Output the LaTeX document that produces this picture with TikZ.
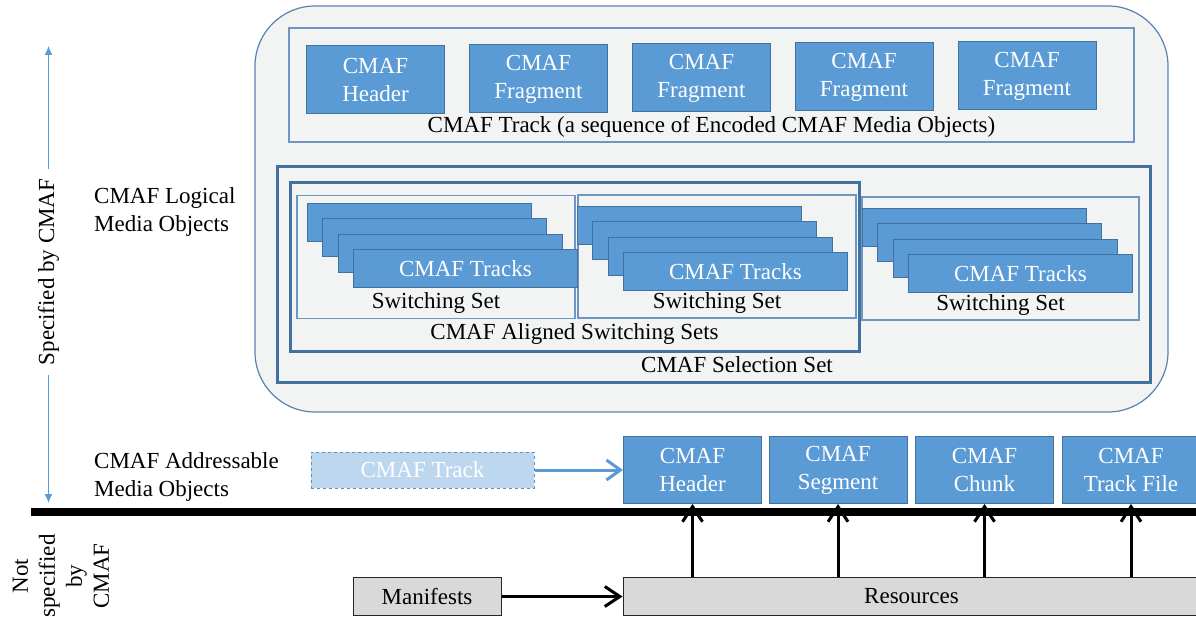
\documentclass[tikz,border=0pt]{standalone}
\usepackage{fontspec}
\setmainfont{Liberation Serif}
\usetikzlibrary{arrows.meta,positioning}

\definecolor{cmafblue}{HTML}{5B9BD5}
\definecolor{cmafedge}{HTML}{41719C}
\definecolor{cmafpale}{HTML}{BDD7EE}
\definecolor{framefill}{HTML}{F2F4F4}
\definecolor{frameedge}{HTML}{5A82AE}
\definecolor{thinedge}{HTML}{6E96C4}
\definecolor{resgray}{HTML}{D9D9D9}

\tikzset{
  every node/.style={font=\fontsize{23}{28}\selectfont, inner sep=0pt},
  blk/.style={draw=cmafedge, fill=cmafblue, text=white, align=center,
    minimum width=138pt, minimum height=68pt, line width=1pt},
  trk/.style={draw=cmafedge, fill=cmafblue, text=white,
    minimum width=224pt, minimum height=38pt, line width=1pt},
  thinbox/.style={draw=thinedge, line width=1.2pt},
  thickbox/.style={draw=cmafedge, line width=3pt},
  graybox/.style={draw=black!85, fill=resgray, line width=1pt, minimum height=38pt},
  ghost/.style={draw=cmafedge!80, dashed, fill=cmafpale, text=white,
    minimum width=223pt, minimum height=36pt, line width=1pt},
  bluearrow/.style={draw=cmafblue, line width=3pt, -{Straight Barb[length=14pt,width=20pt]}},
  blackarrow/.style={draw=black, line width=3pt, -{Straight Barb[length=15pt,width=20pt]}},
  specarrow/.style={draw=cmafblue, line width=1.2pt, -{Latex[length=9pt,width=8pt]}},
}

\begin{document}
\begin{tikzpicture}[x=1pt,y=-1pt]
    \useasboundingbox (0,0) rectangle (1196,617);
    % Frames:
    \draw[draw=frameedge, fill=framefill, line width=1.2pt, rounded corners=60pt] (255,6) rectangle (1168,412);
    \node[thinbox, minimum width=845pt, minimum height=114pt] (track) at (711.5,85) {};
    \node[thickbox, minimum width=873pt, minimum height=215pt] (sel) at (713.5,274.5) {};
    \node[thickbox, minimum width=569pt, minimum height=168pt] (aligned) at (574.5,267) {};
    \foreach \n/\x/\y/\w in {ss1/436/257/278pt, ss2/717/256.5/278pt, ss3/1000.5/258.5/277pt}
      \node[thinbox, minimum width=\w, minimum height=123pt] (\n) at (\x,\y) {};
    % Media objects:
    \foreach \n/\x/\y/\t in {hdr/375.5/80/Header, frg1/538.5/79/Fragment, frg2/701.5/78/Fragment,
        frg3/864/77/Fragment, frg4/1027/76/Fragment}
      \node[blk] (\n) at (\x,\y) {CMAF\\\t};
    \foreach \s/\x/\y in {a/307/203, b/577/206, c/862/208}
      \foreach \i/\t in {0/{},1/{},2/{},3/CMAF Tracks}
        \node[trk, anchor=north west] (\s\i) at (\x+15.3*\i, \y+15.3*\i) {\t};
    % Labels:
    \node at (711.5,127) {CMAF Track (a sequence of Encoded CMAF Media Objects)};
    \foreach \n in {ss1,ss2,ss3}
      \node at ([yshift=16pt]\n.south) {Switching Set};
    \node at ([yshift=18pt]aligned.south) {CMAF Aligned Switching Sets};
    \node at ([xshift=23.5pt,yshift=19pt]sel.south) {CMAF Selection Set};
    \node[align=left, anchor=west] (logical) at (94,212) {CMAF Logical\\Media Objects};
    \node[align=left, anchor=west] (address) at (94,477) {CMAF Addressable\\Media Objects};
    % Scope:
    \node[rotate=90, inner xsep=10pt] (spec) at (48.5,272) {Specified by CMAF};
    \coordinate (spectop) at (48.5,46);
    \coordinate (specbot) at (48.5,503);
    \draw[specarrow] (spec.east) -- (spectop);
    \draw[specarrow] (spec.west) -- (specbot);
    \node[rotate=90, align=center, font=\fontsize{23}{27}\selectfont] (notspec) at (61,576) {Not\\specified\\by\\CMAF};
    \draw[line width=8pt] (31,512) -- (1196,512);
    % Addressable objects:
    \node[ghost] (ghost) at (422.5,470) {CMAF Track};
    \foreach \n/\x/\t in {ahdr/692.5/Header, aseg/838/Segment, achk/984.5/Chunk, afile/1131/Track File}
      \node[blk, minimum height=67pt] (\n) at (\x,470) {CMAF\\\t};
    \draw[bluearrow] (ghost) -- (ahdr);
    % Resources:
    \node[graybox, minimum width=148pt] (man) at (427,596.5) {Manifests};
    \node[graybox, minimum width=577pt] (res) at (911.5,596.5) {Resources};
    \draw[blackarrow] (man) -- (res);
    \foreach \n in {ahdr,aseg,achk,afile}
      \draw[blackarrow] (res.north -| \n.south) -- (\n.south);
\end{tikzpicture}
\end{document}
